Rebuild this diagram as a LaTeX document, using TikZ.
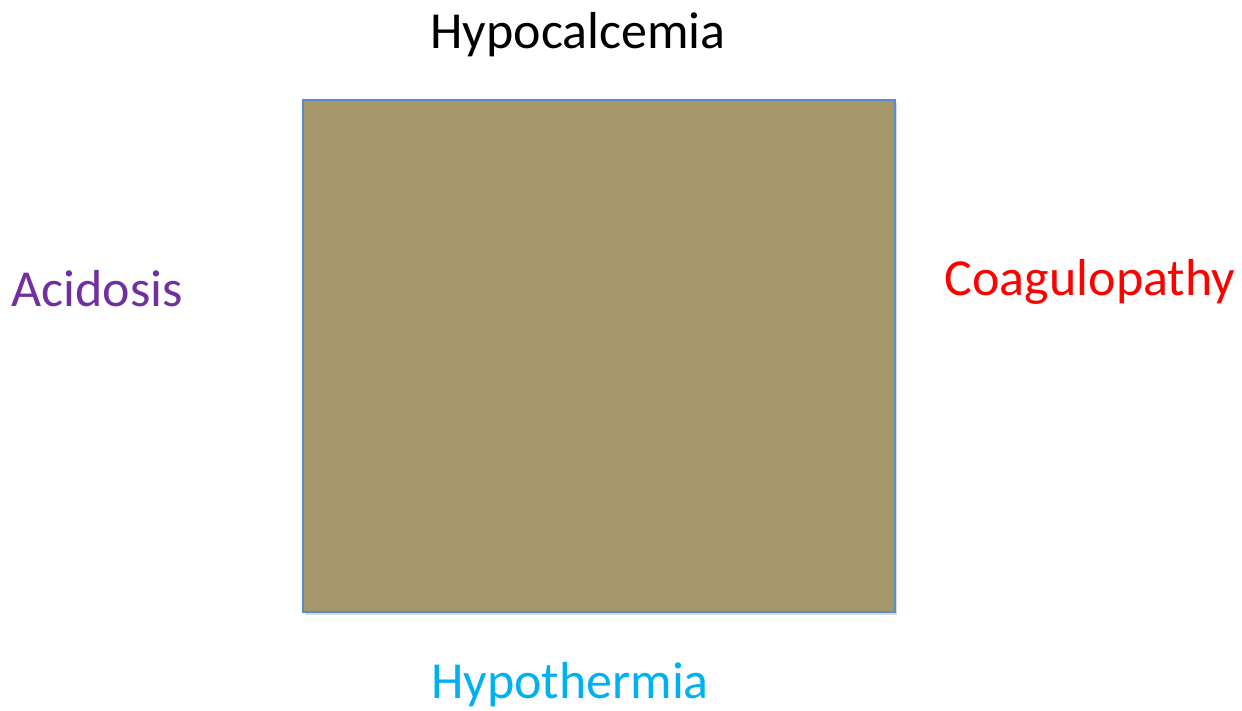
\documentclass[tikz,border=0pt]{standalone}
\usepackage{fontspec}
\setmainfont{Carlito}
\usetikzlibrary{shadows}
\definecolor{boxc}{HTML}{A4976A}
\definecolor{edgec}{HTML}{5B8AC9}
\definecolor{acidc}{HTML}{7030A0}
\definecolor{coagc}{HTML}{FF0000}
\definecolor{thermc}{HTML}{00B0F0}

\begin{document}
\begin{tikzpicture}[x=1pt,y=-1pt,
      lbl/.style={anchor=base,inner sep=0pt,font=\fontsize{52}{60}\selectfont},
      sq/.style={draw=edgec,line width=1.5pt,fill=boxc,minimum width=592pt,minimum height=512pt,inner sep=0pt,
        drop shadow={shadow xshift=2pt,shadow yshift=-3pt,opacity=0.3}}]
    \useasboundingbox (0,0) rectangle (1242,711);
    \node[sq] (sq) at (599,356) {};
    \node[lbl] (top) at (578,49) {Hypocalcemia};
    \node[lbl,text=acidc] (left) at (97,307) {Acidosis};
    \node[lbl,text=coagc] (right) at (1090,296) {Coagulopathy};
    \node[lbl,text=thermc] (bot) at (570,698) {Hypothermia};
  \end{tikzpicture}
\end{document}
